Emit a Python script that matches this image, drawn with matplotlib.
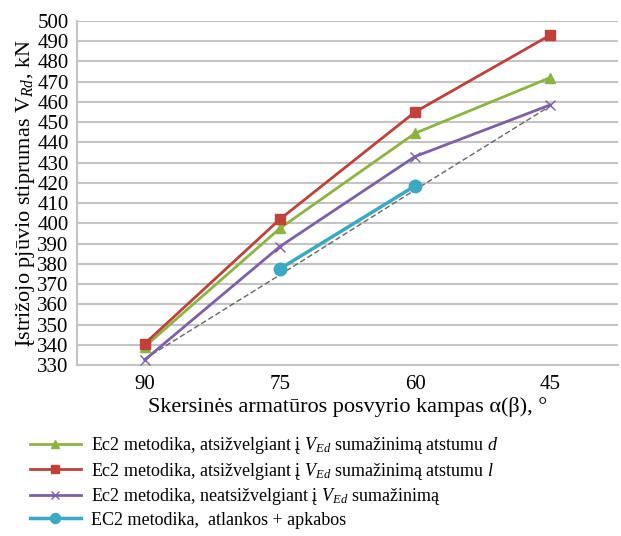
import matplotlib
matplotlib.use("Agg")
import matplotlib.pyplot as plt

plt.rcParams['font.family'] = ['Liberation Serif', 'DejaVu Serif']
plt.rcParams['mathtext.fontset'] = 'custom'
plt.rcParams['mathtext.rm'] = 'Liberation Serif'
plt.rcParams['mathtext.it'] = 'Liberation Serif:italic'

kampai = ['90', '75', '60', '45']
ec2_d = [339, 397.5, 444.5, 472]
ec2_l = [340.5, 402, 455, 493]
ec2_be = [332.5, 388.5, 433, 458.5]
ec2_apk = [None, 377.5, 418.5, None]
tiesine = [333, 374.5, 416.5, 458]

fig = plt.figure(figsize=(6.21, 5.36), dpi=100)
ax = fig.add_axes([0.124, 0.319, 0.871, 0.642])

x = list(range(len(kampai)))
xa = [i for i, v in zip(x, ec2_apk) if v is not None]
ya = [v for v in ec2_apk if v is not None]

ax.plot(x, tiesine, color='#666666', lw=1.0, ls=(0, (4, 2)), zorder=2)
ax.plot(x, ec2_d, color='#8cb440', lw=2, marker='^', ms=7,
        label=r'Ec2 metodika, atsižvelgiant į $V_{Ed}$ sumažinimą atstumu $d$', zorder=3)
ax.plot(x, ec2_l, color='#c0403a', lw=2, marker='s', ms=7,
        label=r'Ec2 metodika, atsižvelgiant į $V_{Ed}$ sumažinimą atstumu $l$', zorder=3)
ax.plot(x, ec2_be, color='#7e60a8', lw=2, marker='x', ms=7, mew=1,
        label=r'Ec2 metodika, neatsižvelgiant į $V_{Ed}$ sumažinimą', zorder=3)
ax.plot(xa, ya, color='#3aa9c4', lw=2.5, marker='o', ms=9,
        label='EC2 metodika,  atlankos + apkabos', zorder=3)

ax.set_xlim(-0.5, 3.5)
ax.set_ylim(330, 500)
ax.set_yticks(range(330, 501, 10))
ax.set_xticks(x)
ax.set_xticklabels(kampai)
ax.tick_params(labelsize=15, length=0, pad=6)
ax.tick_params(axis='x', pad=7)
ax.grid(axis='y', color='#c4c4c4', lw=1.5)
ax.set_axisbelow(True)
for s in ['top', 'right']:
    ax.spines[s].set_visible(False)
ax.spines['left'].set_color('#c4c4c4')
ax.spines['left'].set_linewidth(1.5)
ax.spines['bottom'].set_color('#c4c4c4')
ax.spines['bottom'].set_linewidth(1.5)

ax.set_ylabel(r'Įstrižojo pjūvio stiprumas $\mathrm{V}_{Rd}$, kN', fontsize=16, labelpad=0)
ax.set_xlabel('Skersinės armatūros posvyrio kampas α(β), °', fontsize=16, labelpad=2)

fig.legend(loc='upper left', bbox_to_anchor=(0.034, 0.205), frameon=False,
           fontsize=13, handlelength=2.8, labelspacing=0.25, borderpad=0,
           handletextpad=0.55, markerscale=0.8)

fig.savefig('out.png', dpi=100)
